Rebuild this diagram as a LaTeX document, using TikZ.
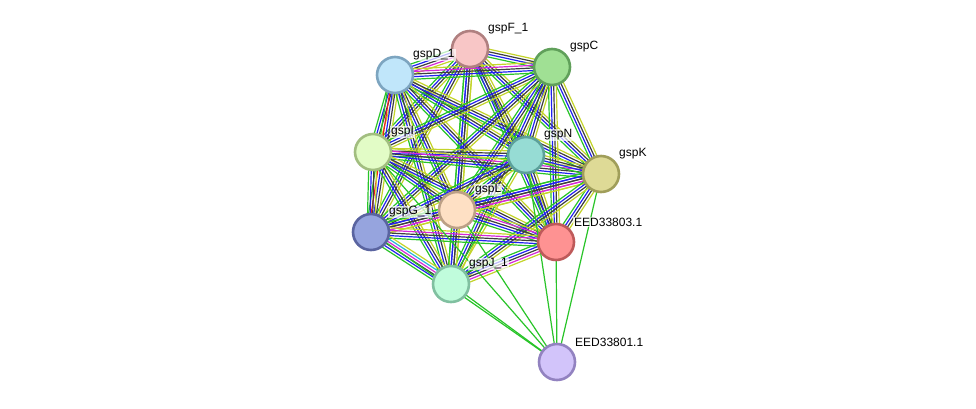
\documentclass[tikz,border=0pt]{standalone}
\usepackage{fontspec}
\setmainfont{Liberation Sans}
\usepackage{tikz}
\usetikzlibrary{calc,backgrounds}
% evidence channels
\definecolor{neigh}{RGB}{40,196,40}
\definecolor{cooc}{RGB}{34,34,240}
\definecolor{coexp}{RGB}{62,62,62}
\definecolor{exper}{RGB}{214,40,214}
\definecolor{dbase}{RGB}{40,182,214}
\definecolor{txtm}{RGB}{196,212,42}
\definecolor{fusion}{RGB}{240,30,30}
% protein colours (fill / rim)
\definecolor{fF}{RGB}{248,198,198}\definecolor{rF}{RGB}{176,128,128}
\definecolor{fD}{RGB}{192,230,250}\definecolor{rD}{RGB}{125,165,192}
\definecolor{fC}{RGB}{160,224,148}\definecolor{rC}{RGB}{96,160,90}
\definecolor{fI}{RGB}{226,252,198}\definecolor{rI}{RGB}{162,190,128}
\definecolor{fN}{RGB}{150,220,212}\definecolor{rN}{RGB}{92,160,154}
\definecolor{fK}{RGB}{222,218,150}\definecolor{rK}{RGB}{160,158,90}
\definecolor{fL}{RGB}{254,224,196}\definecolor{rL}{RGB}{188,160,134}
\definecolor{fG}{RGB}{150,164,222}\definecolor{rG}{RGB}{90,100,160}
\definecolor{fE}{RGB}{254,146,146}\definecolor{rE}{RGB}{190,90,90}
\definecolor{fJ}{RGB}{192,252,220}\definecolor{rJ}{RGB}{128,192,160}
\definecolor{fB}{RGB}{210,196,250}\definecolor{rB}{RGB}{146,130,192}
% channel sets
\def\full{neigh,cooc,coexp,exper,txtm}
\def\std{neigh,cooc,coexp,txtm}
\def\one{neigh}
% parallel lines between two proteins, one per channel
\newcommand{\bundle}[3]{%
  \foreach \col [count=\k] in #3 {\xdef\nlines{\k}}%
  \foreach \col [count=\k] in #3 {%
    \pgfmathsetmacro{\off}{(\k-(\nlines+1)/2)*2.6}%
    \draw[link,color=\col] ($(#1)!\off pt!90:(#2)$) -- ($(#2)!\off pt!-90:(#1)$);
  }%
}

\begin{document}
\begin{tikzpicture}[
    x=1pt,y=-1pt,
    prot/.style={circle,minimum size=36pt,inner sep=0pt,line width=2.6pt},
    tag/.style={anchor=west,fill=white,fill opacity=0.7,text opacity=1,inner sep=1pt,font=\fontsize{12}{14}\selectfont},
    link/.style={line width=1.2pt}
  ]
    \useasboundingbox (0,0) rectangle (976,408);

    \node[prot,fill=fF,draw=rF] (gspF) at (470,49) {};
    \node[prot,fill=fD,draw=rD] (gspD) at (395,75) {};
    \node[prot,fill=fC,draw=rC] (gspC) at (552,67) {};
    \node[prot,fill=fI,draw=rI] (gspI) at (373,152) {};
    \node[prot,fill=fN,draw=rN] (gspN) at (526,155) {};
    \node[prot,fill=fK,draw=rK] (gspK) at (601,174) {};
    \node[prot,fill=fL,draw=rL] (gspL) at (457,210) {};
    \node[prot,fill=fG,draw=rG] (gspG) at (371,232) {};
    \node[prot,fill=fE,draw=rE] (eedA) at (556,242) {};
    \node[prot,fill=fJ,draw=rJ] (gspJ) at (451,284) {};
    \node[prot,fill=fB,draw=rB] (eedB) at (557,362) {};

    \begin{scope}[on background layer]
      \fill[white] (0,0) rectangle (976,408);
      \bundle{gspF}{gspD}{\full}
      \bundle{gspF}{gspC}{\std}
      \bundle{gspF}{gspI}{\std}
      \bundle{gspF}{gspN}{\std}
      \bundle{gspF}{gspK}{\std}
      \bundle{gspF}{gspL}{\std}
      \bundle{gspF}{gspG}{\std}
      \bundle{gspF}{eedA}{\std}
      \bundle{gspF}{gspJ}{\std}
      \bundle{gspD}{gspC}{\full}
      \bundle{gspD}{gspI}{\std}
      \bundle{gspD}{gspN}{\std}
      \bundle{gspD}{gspK}{\std}
      \bundle{gspD}{gspL}{\std}
      \bundle{gspD}{gspG}{{neigh,fusion,cooc,coexp,txtm}}
      \bundle{gspD}{eedA}{\std}
      \bundle{gspD}{gspJ}{\std}
      \bundle{gspC}{gspI}{\std}
      \bundle{gspC}{gspN}{\std}
      \bundle{gspC}{gspK}{\std}
      \bundle{gspC}{gspL}{\std}
      \bundle{gspC}{gspG}{\std}
      \bundle{gspC}{eedA}{\std}
      \bundle{gspC}{gspJ}{\std}
      \bundle{gspI}{gspN}{\std}
      \bundle{gspI}{gspK}{\full}
      \bundle{gspI}{gspL}{\std}
      \bundle{gspI}{gspG}{\std}
      \bundle{gspI}{eedA}{\std}
      \bundle{gspI}{gspJ}{\std}
      \bundle{gspN}{gspK}{\std}
      \bundle{gspN}{gspL}{\std}
      \bundle{gspN}{gspG}{\std}
      \bundle{gspN}{eedA}{\std}
      \bundle{gspN}{gspJ}{{neigh,txtm}}
      \bundle{gspK}{gspL}{\full}
      \bundle{gspK}{gspG}{\full}
      \bundle{gspK}{eedA}{\std}
      \bundle{gspK}{gspJ}{\std}
      \bundle{gspL}{gspG}{\full}
      \bundle{gspL}{eedA}{\full}
      \bundle{gspL}{gspJ}{\std}
      \bundle{gspG}{eedA}{\full}
      \bundle{gspG}{gspJ}{{neigh,cooc,coexp,exper,dbase,txtm}}
      \bundle{eedA}{gspJ}{\full}
      % EED33801.1 only has neighbourhood links
      \bundle{eedB}{gspJ}{\one}
      \bundle{eedB}{gspG}{\one}
      \bundle{eedB}{gspL}{\one}
      \bundle{eedB}{gspI}{\one}
      \bundle{eedB}{eedA}{\one}
      \bundle{eedB}{gspN}{\one}
      \bundle{eedB}{gspK}{\one}
    \end{scope}

    \node[tag] (lblF) at ($(gspF)+(17,-20)$) {gspF\_1};
    \node[tag] (lblD) at ($(gspD)+(17,-20)$) {gspD\_1};
    \node[tag] (lblC) at ($(gspC)+(17,-20)$) {gspC};
    \node[tag] (lblI) at ($(gspI)+(17,-20)$) {gspI};
    \node[tag] (lblN) at ($(gspN)+(17,-20)$) {gspN};
    \node[tag] (lblK) at ($(gspK)+(17,-20)$) {gspK};
    \node[tag] (lblL) at ($(gspL)+(17,-20)$) {gspL};
    \node[tag] (lblG) at ($(gspG)+(17,-20)$) {gspG\_1};
    \node[tag] (lblA) at ($(eedA)+(17,-20)$) {EED33803.1};
    \node[tag] (lblJ) at ($(gspJ)+(17,-20)$) {gspJ\_1};
    \node[tag] (lblB) at ($(eedB)+(17,-20)$) {EED33801.1};
  \end{tikzpicture}
\end{document}
